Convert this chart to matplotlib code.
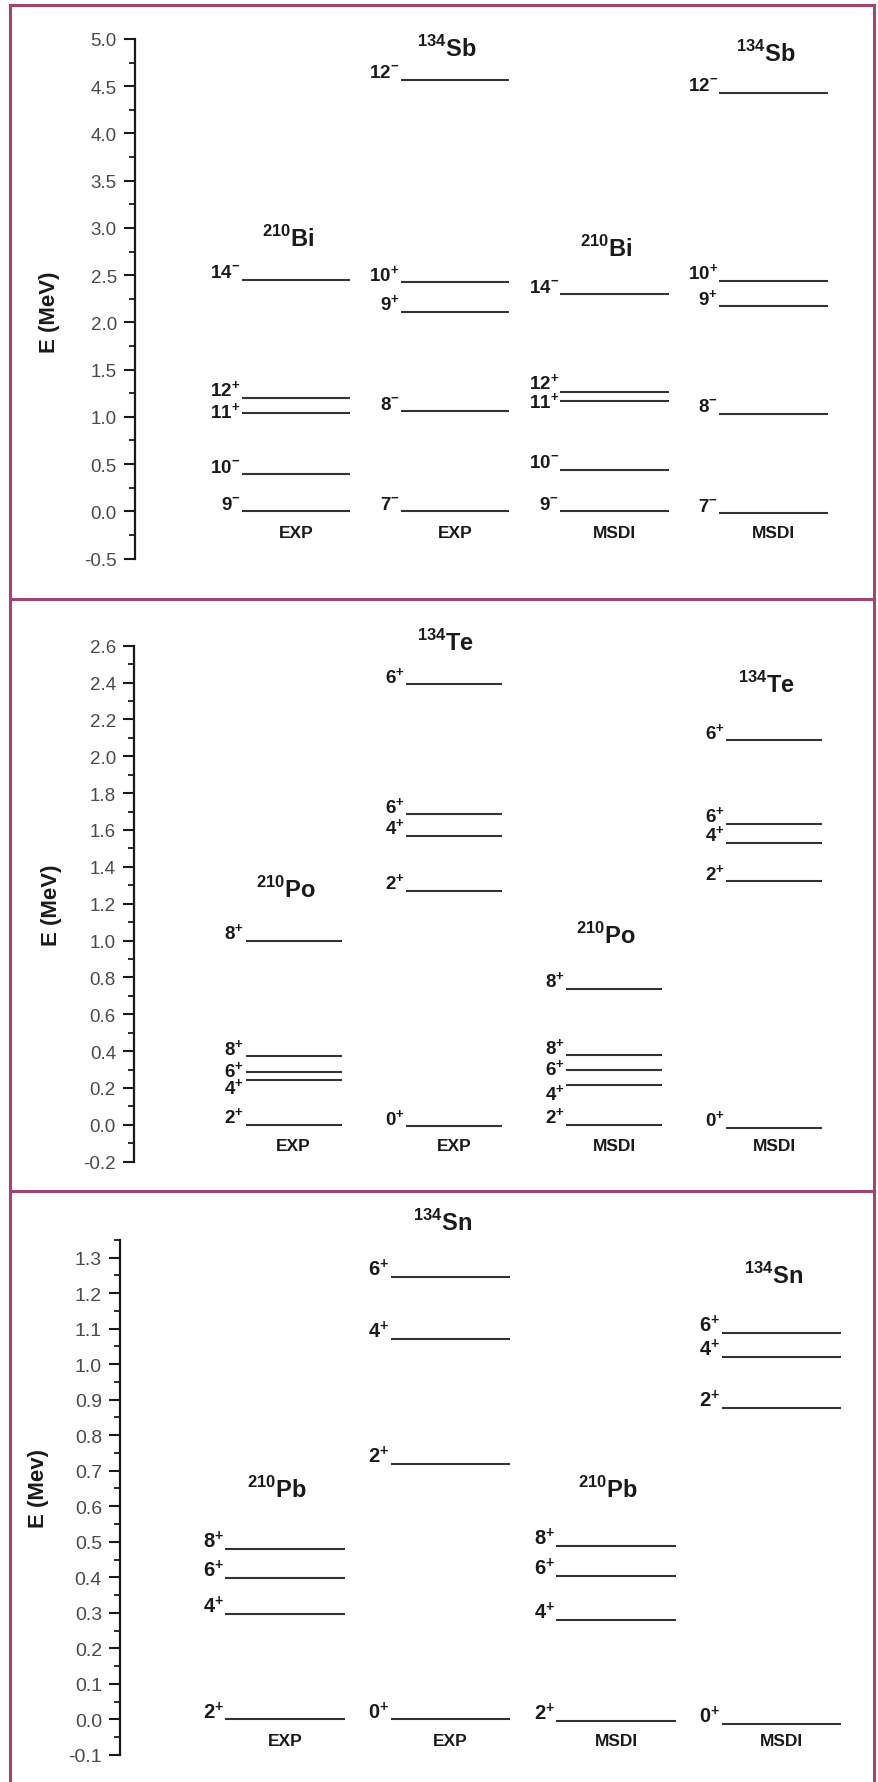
import matplotlib
matplotlib.use("Agg")
import matplotlib.pyplot as plt
from matplotlib.lines import Line2D
from matplotlib.ticker import MultipleLocator, FormatStrFormatter
from matplotlib import font_manager

# ---------------------------------------------------------------------------
# Dane: poziomy energetyczne [MeV] i spiny
# ---------------------------------------------------------------------------
col_names = ["EXP", "EXP", "MSDI", "MSDI"]

# panel 1: 210Bi / 134Sb
bi_exp_e = [0.0, 0.39, 1.045, 1.20, 2.45]
bi_exp_j = ["9-", "10-", "11+", "12+", "14-"]
sb_exp_e = [0.0, 1.057, 2.11, 2.425, 4.57]
sb_exp_j = ["7-", "8-", "9+", "10+", "12-"]
bi_msdi_e = [0.0, 0.437, 1.17, 1.26, 2.30]
bi_msdi_j = ["9-", "10-", "11+", "12+", "14-"]
sb_msdi_e = [-0.02, 1.03, 2.17, 2.44, 4.43]
sb_msdi_j = ["7-", "8-", "9+", "10+", "12-"]

# panel 2: 210Po / 134Te
po_exp_e = [0.0, 0.243, 0.289, 0.372, 1.00]
po_exp_j = ["2+", "4+", "6+", "8+", "8+"]
te_exp_e = [-0.008, 1.271, 1.568, 1.686, 2.39]
te_exp_j = ["0+", "2+", "4+", "6+", "6+"]
po_msdi_e = [0.0, 0.214, 0.299, 0.378, 0.739]
po_msdi_j = ["2+", "4+", "6+", "8+", "8+"]
te_msdi_e = [-0.015, 1.321, 1.531, 1.634, 2.087]
te_msdi_j = ["0+", "2+", "4+", "6+", "6+"]

# panel 3: 210Pb / 134Sn
pb_exp_e = [0.0, 0.296, 0.397, 0.48]
pb_exp_j = ["2+", "4+", "6+", "8+"]
sn_exp_e = [0.0, 0.719, 1.072, 1.246]
sn_exp_j = ["0+", "2+", "4+", "6+"]
pb_msdi_e = [-0.003, 0.28, 0.405, 0.489]
pb_msdi_j = ["2+", "4+", "6+", "8+"]
sn_msdi_e = [-0.013, 0.876, 1.021, 1.087]
sn_msdi_j = ["0+", "2+", "4+", "6+"]

# nazwy jąder nad kolumnami: (A, symbol, wysokość etykiety w MeV)
nuc_p1 = [("210", "Bi", 2.89), ("134", "Sb", 4.91), ("210", "Bi", 2.79), ("134", "Sb", 4.85)]
nuc_p2 = [("210", "Po", 1.28), ("134", "Te", 2.62), ("210", "Po", 1.03), ("134", "Te", 2.39)]
nuc_p3 = [("210", "Pb", 0.65), ("134", "Sn", 1.40), ("210", "Pb", 0.65), ("134", "Sn", 1.25)]

# położenie etykiet spinów względem linii
# (b = nad, B = wyżej nad, c = środek, C = niżej środka, t = pod)
va_p1 = [["b", "b", "c", "b", "b"], ["b"] * 5, ["b", "b", "C", "B", "b"], ["b"] * 5]
va_p2 = [["b", "t", "c", "b", "b"], ["b"] * 5, ["b", "t", "c", "b", "b"], ["b"] * 5]
va_p3 = [["b"] * 4] * 4

# ---------------------------------------------------------------------------
# Konfiguracja
# ---------------------------------------------------------------------------
W, H = 879, 1783
BORDER = "#a3456f"
LINE_C = "#333333"


def has_font(name):
    try:
        font_manager.findfont(name, fallback_to_default=False)
        return True
    except Exception:
        return False


NARROW = "Liberation Sans Narrow" if has_font("Liberation Sans Narrow") else "Liberation Sans"

plt.rcParams.update({
    "font.family": ["Liberation Sans", "DejaVu Sans"],
    "axes.unicode_minus": False,
    "mathtext.fontset": "custom",
    "mathtext.rm": "Liberation Sans",
    "mathtext.bf": "Liberation Sans:bold",
})

fig = plt.figure(figsize=(W / 100, H / 100), dpi=100)


def px_axes(left, top, right, bottom):
    return fig.add_axes([left / W, 1 - bottom / H, (right - left) / W, (bottom - top) / H])


def spin_label(j):
    return j[:-1] + r"$^{\mathbf{" + j[-1] + "}}$"


# przesunięcie linii bazowej etykiety spinu [px] (dodatnie = w górę)
def spin_offset(code, digit_h):
    return {"b": 1.5, "B": 3.5, "c": -5.0, "C": -7.5,
            "t": -(digit_h + 1.0)}[code] * 72 / 100


def draw_panel(rect, ylim, xlim, major, minor, halfw, columns, nuclei, valign,
               ylabel, ylabel_xy, tick_fs, spin_fs):
    ax = px_axes(*rect)
    ax.set_xlim(*xlim)
    ax.set_ylim(*ylim)
    for s in ["top", "right", "bottom"]:
        ax.spines[s].set_visible(False)
    ax.spines["left"].set_linewidth(1.6)
    ax.spines["left"].set_color("#1a1a1a")
    ax.set_xticks([])
    ax.yaxis.set_major_locator(MultipleLocator(major))
    ax.yaxis.set_minor_locator(MultipleLocator(minor))
    ax.yaxis.set_major_formatter(FormatStrFormatter("%.1f"))
    ax.tick_params(axis="y", which="major", direction="out", length=8, width=1.5,
                   pad=5, labelsize=tick_fs, labelcolor="#4a4a4a", color="#1a1a1a")
    ax.tick_params(axis="y", which="minor", direction="out", length=4.5, width=1.3,
                   color="#1a1a1a")
    ax.patch.set_alpha(0)

    digit_h = spin_fs * 100 / 72 * 0.716
    for i, (energies, spins) in enumerate(columns):
        xc = i + 1
        x0, x1 = xc - halfw, xc + halfw
        for k, (e, j) in enumerate(zip(energies, spins)):
            ax.plot([x0, x1], [e, e], color=LINE_C, lw=1.5, solid_capstyle="butt")
            ax.annotate(spin_label(j), xy=(x0, e),
                        xytext=(-1, spin_offset(valign[i][k], digit_h)),
                        textcoords="offset points", ha="right", va="baseline",
                        fontsize=spin_fs, fontweight="bold", family=NARROW,
                        color="#1a1a1a", annotation_clip=False)
        mass, sym, ylab = nuclei[i]
        ax.text(xc - 0.05, ylab, r"$^{\mathbf{" + mass + "}}$" + sym, ha="center",
                va="center", fontsize=17, fontweight="bold", color="#1a1a1a",
                clip_on=False)
        ax.annotate(col_names[i], xy=(xc, 0), xytext=(0, -15),
                    textcoords="offset points", ha="center", va="center",
                    fontsize=12.5, fontweight="bold", family=NARROW, color="#1a1a1a",
                    annotation_clip=False)

    fig.text(ylabel_xy[0] / W, 1 - ylabel_xy[1] / H, ylabel, rotation=90,
             ha="center", va="center", fontsize=16, fontweight="bold", color="#1a1a1a")
    return ax


# panel 1
draw_panel((135, 40, 865, 559.5), (-0.5, 5.0), (-0.011, 4.574), 0.5, 0.25, 0.34,
           [(bi_exp_e, bi_exp_j), (sb_exp_e, sb_exp_j),
            (bi_msdi_e, bi_msdi_j), (sb_msdi_e, sb_msdi_j)],
           nuc_p1, va_p1, "E (MeV)", (50, 312), 13.5, 13.5)

# panel 2
draw_panel((134, 646.7, 865, 1162.7), (-0.2, 2.6), (0.004, 4.567), 0.2, 0.1, 0.30,
           [(po_exp_e, po_exp_j), (te_exp_e, te_exp_j),
            (po_msdi_e, po_msdi_j), (te_msdi_e, te_msdi_j)],
           nuc_p2, va_p2, "E (MeV)", (52, 905), 13.5, 13.5)

# panel 3
draw_panel((120, 1240.7, 865, 1756), (-0.1, 1.3501), (0.003, 4.505), 0.1, 0.05, 0.36,
           [(pb_exp_e, pb_exp_j), (sn_exp_e, sn_exp_j),
            (pb_msdi_e, pb_msdi_j), (sn_msdi_e, sn_msdi_j)],
           nuc_p3, va_p3, "E (Mev)", (39, 1489), 14, 14.5)

# ramki paneli
for (x0, y0, x1, y1) in [(10, 6, 10, H), (874, 6, 874, H), (10, 6, 874, 6),
                         (10, 600, 874, 600), (10, 1192, 874, 1192)]:
    fig.add_artist(Line2D([x0 / W, x1 / W], [1 - y0 / H, 1 - y1 / H],
                          transform=fig.transFigure, color=BORDER, lw=2.2))

fig.savefig("out.png", dpi=100)
